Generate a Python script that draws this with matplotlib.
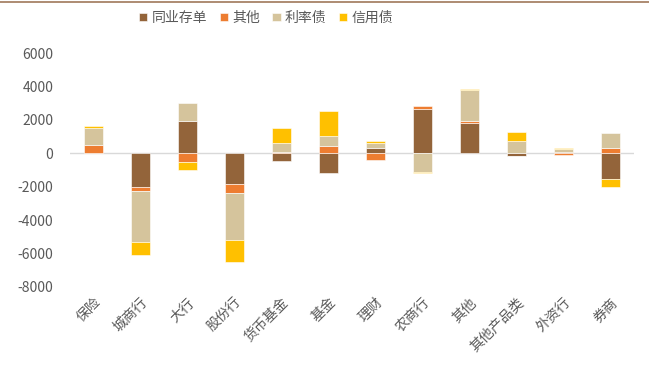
import matplotlib
matplotlib.use('Agg')
import matplotlib.pyplot as plt
import numpy as np
from matplotlib.lines import Line2D

plt.rcParams['font.family'] = ['Noto Sans CJK SC', 'DejaVu Sans']
plt.rcParams['axes.unicode_minus'] = False

categories = ['保险', '城商行', '大行', '股份行', '货币基金', '基金', '理财',
              '农商行', '其他', '其他产品类', '外资行', '券商']
series_names = ['同业存单', '其他', '利率债', '信用债']

tongye = [0, -2000, 1940, -1860, -460, -1200, 330, 2640, 1800, -160, 100, -1540]
qita = [500, -280, -500, -540, 80, 440, -400, 160, 140, -30, -100, 320]
lilv = [1040, -3020, 1060, -2760, 560, 600, 300, -1100, 1820, 760, 140, 920]
xinyong = [120, -800, -500, -1340, 900, 1500, 80, -100, 80, 540, 80, -500]

colors = ['#93643A', '#ED7D31', '#D5C49C', '#FFC000']

fig = plt.figure(figsize=(6.49, 3.72), dpi=100)
ax = fig.add_axes([0.108, 0.2285, 0.869, 0.629])

x = np.arange(len(categories))
pos_bottom = np.zeros(len(categories))
neg_bottom = np.zeros(len(categories))
for name, vals, c in zip(series_names, [tongye, qita, lilv, xinyong], colors):
    v = np.array(vals, dtype=float)
    bottom = np.where(v >= 0, pos_bottom, neg_bottom)
    ax.bar(x, v, 0.39, bottom=bottom, color=c, label=name,
           edgecolor='white', linewidth=0.4)
    pos_bottom += np.where(v > 0, v, 0)
    neg_bottom += np.where(v < 0, v, 0)

ax.axhline(0, color='#D9D9D9', linewidth=1, zorder=0)
ax.set_xlim(-0.5, len(categories) - 0.5)
ax.set_ylim(-8000, 6000)
ax.set_yticks(range(-8000, 6001, 2000))
for s in ax.spines.values():
    s.set_visible(False)
ax.tick_params(length=0, colors='#595959', labelsize=10)
ax.tick_params(axis='y', pad=12)
ax.tick_params(axis='x', pad=6)
ax.set_xticks(x)
ax.set_xticklabels(categories, rotation=45, ha='right', rotation_mode='anchor')

fig.legend(loc='center', bbox_to_anchor=(0.41, 0.952), ncol=4, frameon=False,
           fontsize=10, handlelength=0.6, handleheight=0.6, handletextpad=0.3,
           columnspacing=0.9, labelcolor='#595959')

fig.add_artist(Line2D([0, 1], [0.994, 0.994], color='#A0785A', linewidth=1.2,
                      transform=fig.transFigure))

plt.savefig('out.png', dpi=100)
